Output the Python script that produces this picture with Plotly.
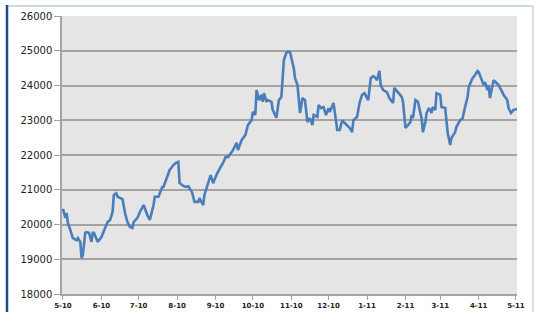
import plotly.graph_objects as go

dates = [
    "2010-05-01", "2010-05-03", "2010-05-04", "2010-05-05", "2010-05-07", "2010-05-09",
    "2010-05-12", "2010-05-13", "2010-05-15", "2010-05-16", "2010-05-17", "2010-05-19",
    "2010-05-20", "2010-05-22", "2010-05-24", "2010-05-25", "2010-05-26", "2010-05-28",
    "2010-05-29", "2010-06-01", "2010-06-04", "2010-06-06", "2010-06-08", "2010-06-10",
    "2010-06-11", "2010-06-13", "2010-06-14", "2010-06-16", "2010-06-18", "2010-06-20",
    "2010-06-22", "2010-06-24", "2010-06-26", "2010-06-27", "2010-06-30", "2010-07-02",
    "2010-07-04", "2010-07-05", "2010-07-08", "2010-07-10", "2010-07-13", "2010-07-14",
    "2010-07-17", "2010-07-20", "2010-07-21", "2010-07-24", "2010-07-26", "2010-07-29",
    "2010-07-31", "2010-08-02", "2010-08-03", "2010-08-06", "2010-08-08", "2010-08-10",
    "2010-08-13", "2010-08-15", "2010-08-18", "2010-08-19", "2010-08-22", "2010-08-23",
    "2010-08-26", "2010-08-28", "2010-08-30", "2010-09-02", "2010-09-05", "2010-09-07",
    "2010-09-09", "2010-09-11", "2010-09-15", "2010-09-18", "2010-09-19", "2010-09-22",
    "2010-09-25", "2010-09-27", "2010-09-30", "2010-10-01", "2010-10-03", "2010-10-04",
    "2010-10-06", "2010-10-08", "2010-10-09", "2010-10-10", "2010-10-12", "2010-10-13",
    "2010-10-16", "2010-10-17", "2010-10-20", "2010-10-22", "2010-10-24", "2010-10-26",
    "2010-10-28", "2010-10-29", "2010-10-31", "2010-11-02", "2010-11-03", "2010-11-04",
    "2010-11-06", "2010-11-08", "2010-11-10", "2010-11-12", "2010-11-14", "2010-11-16",
    "2010-11-18", "2010-11-19", "2010-11-22", "2010-11-23", "2010-11-25", "2010-11-27",
    "2010-11-29", "2010-12-01", "2010-12-02", "2010-12-05", "2010-12-08", "2010-12-10",
    "2010-12-12", "2010-12-14", "2010-12-18", "2010-12-20", "2010-12-21", "2010-12-24",
    "2010-12-26", "2010-12-28", "2010-12-30", "2011-01-01", "2011-01-02", "2011-01-04",
    "2011-01-06", "2011-01-08", "2011-01-09", "2011-01-11", "2011-01-12", "2011-01-14",
    "2011-01-17", "2011-01-19", "2011-01-22", "2011-01-23", "2011-01-26", "2011-01-29",
    "2011-01-30", "2011-02-01", "2011-02-03", "2011-02-05", "2011-02-06", "2011-02-07",
    "2011-02-09", "2011-02-11", "2011-02-13", "2011-02-14", "2011-02-15", "2011-02-17",
    "2011-02-18", "2011-02-20", "2011-02-22", "2011-02-23", "2011-02-25", "2011-02-26",
    "2011-03-01", "2011-03-02", "2011-03-05", "2011-03-06", "2011-03-07", "2011-03-09",
    "2011-03-10", "2011-03-13", "2011-03-14", "2011-03-17", "2011-03-19", "2011-03-21",
    "2011-03-23", "2011-03-24", "2011-03-27", "2011-03-29", "2011-03-31", "2011-04-01",
    "2011-04-02", "2011-04-04", "2011-04-05", "2011-04-06", "2011-04-08", "2011-04-09",
    "2011-04-10", "2011-04-13", "2011-04-14", "2011-04-17", "2011-04-20", "2011-04-21",
    "2011-04-24", "2011-04-25", "2011-04-27", "2011-04-29", "2011-05-02",
]

values = [
    20450, 20190, 20330, 20040, 19840, 19610,
    19550, 19610, 19500, 19040, 19120, 19760,
    19780, 19760, 19500, 19760, 19760, 19610,
    19500, 19640, 19930, 20070, 20130, 20360,
    20850, 20900, 20800, 20760, 20730, 20330,
    20070, 19930, 19900, 20070, 20190, 20360,
    20470, 20560, 20270, 20130, 20560, 20800,
    20800, 21080, 21080, 21370, 21570, 21710,
    21770, 21800, 21190, 21110, 21080, 21100,
    20930, 20650, 20650, 20760, 20560, 20850,
    21220, 21420, 21190, 21450, 21650, 21770,
    21940, 21940, 22140, 22350, 22140, 22430,
    22580, 22860, 23000, 23240, 23150, 23870,
    23580, 23730, 23530, 23780, 23530, 23580,
    23530, 23300, 23070, 23580, 23670, 24730,
    24940, 24970, 24960, 24680, 24500, 24210,
    24010, 23210, 23640, 23580, 22950, 23060,
    22860, 23150, 23100, 23440, 23350, 23380,
    23150, 23350, 23240, 23500, 22720, 22720,
    23000, 22920, 22780, 22660, 23000, 23100,
    23500, 23730, 23780, 23640, 23580, 24210,
    24270, 24210, 24150, 24420, 24010, 23870,
    23810, 23640, 23500, 23930, 23810, 23670,
    23530, 22780, 22860, 22950, 23150, 23060,
    23580, 23530, 23210, 23060, 22660, 22950,
    23210, 23350, 23210, 23380, 23300, 23780,
    23730, 23380, 23350, 22920, 22630, 22290,
    22490, 22660, 22810, 23000, 23060, 23380,
    23670, 23960, 24210, 24300, 24420, 24390,
    24300, 24150, 24010, 24100, 23870, 24010,
    23640, 24150, 24120, 24010, 23810, 23730,
    23580, 23350, 23210, 23300, 23320,
]

month_ticks = [
    "2010-05-01", "2010-06-01", "2010-07-01", "2010-08-01", "2010-09-01",
    "2010-10-01", "2010-11-01", "2010-12-01", "2011-01-01", "2011-02-01",
    "2011-03-01", "2011-04-01", "2011-05-01",
]
month_labels = ["5-10", "6-10", "7-10", "8-10", "9-10", "10-10", "11-10",
                "12-10", "1-11", "2-11", "3-11", "4-11", "5-11"]

y_ticks = [18000, 19000, 20000, 21000, 22000, 23000, 24000, 25000, 26000]

fig = go.Figure()
fig.add_trace(go.Scatter(
    x=dates, y=values, mode="lines",
    line=dict(color="#4A7EBB", width=2.6),
    hoverinfo="skip",
))

grid_col = "#A3A3A3"
fig.update_layout(
    width=536, height=312,
    margin=dict(l=62, r=19, t=16, b=18),
    paper_bgcolor="white",
    plot_bgcolor="#E5E5E5",
    showlegend=False,
    xaxis=dict(
        type="date",
        range=["2010-04-30 06:00", "2011-05-01 20:00"],
        tickvals=month_ticks, ticktext=month_labels,
        ticks="outside", ticklen=4, tickcolor=grid_col, tickwidth=1,
        showgrid=False, showline=True, linecolor=grid_col, linewidth=1.5,
        tickfont=dict(family="DejaVu Sans", size=7, color="#222222", weight="bold"),
        fixedrange=True, zeroline=False, automargin=False,
    ),
    yaxis=dict(
        range=[18000, 26000],
        tickvals=y_ticks, ticktext=[str(v) for v in y_ticks],
        ticks="outside", ticklen=6, tickcolor=grid_col, tickwidth=1,
        showgrid=True, gridcolor=grid_col, gridwidth=1.6,
        showline=True, linecolor=grid_col, linewidth=1.5,
        tickfont=dict(family="DejaVu Sans", size=10, color="#222222"),
        fixedrange=True, zeroline=False, automargin=False,
    ),
    shapes=[
        dict(type="line", xref="paper", yref="paper",
             x0=-0.1209, x1=1.035, y0=1.036, y1=1.036,
             line=dict(color="#B9CCD9", width=1.5)),
        dict(type="line", xref="paper", yref="paper",
             x0=1.035, x1=1.035, y0=-0.1, y1=1.036,
             line=dict(color="#C9D6DE", width=1.5)),
        dict(type="line", xref="paper", yref="paper",
             x0=-0.1209, x1=-0.1209, y0=-0.1, y1=1.04,
             line=dict(color="#1F4A8A", width=2.5)),
    ],
)

fig.write_html(
    "out.html",
    config={"displayModeBar": False},
    post_script="document.body.style.margin='0';document.body.style.overflow='hidden';",
)
